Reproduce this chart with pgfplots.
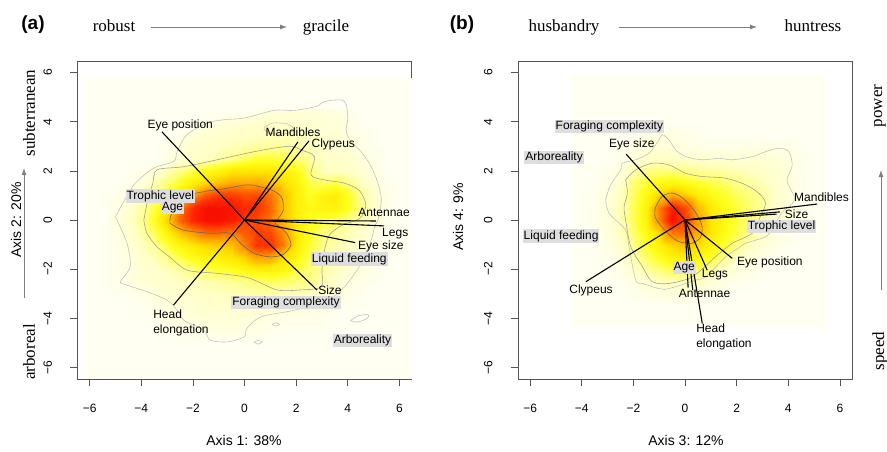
\documentclass[border=0pt]{standalone}
\usepackage{pgfplots}
\pgfplotsset{compat=1.18}
\usepackage{fontspec}
\setmainfont{Liberation Sans}
\newfontfamily\serif{Liberation Serif}
\usetikzlibrary{arrows.meta}

\definecolor{cream}{RGB}{255,255,242}
\definecolor{labbg}{RGB}{222,222,222}
\definecolor{cA}{RGB}{195,195,195}
\definecolor{cB}{RGB}{160,160,160}
\definecolor{cC}{RGB}{105,105,105}
\definecolor{frame}{RGB}{85,85,85}

\pgfplotsset{
  biplot/.style={
    scale only axis, width=334pt, height=318pt,
    xmin=-6.47, xmax=6.47, ymin=-6.47, ymax=6.47,
    clip=false,
    axis line style={frame, line width=0.6pt},
    tick style={frame, line width=0.6pt},
    tick align=outside, major tick length=7pt, tick pos=left,
    xtick={-6,-4,...,6}, ytick={-6,-4,...,6},
    xticklabels={−6,−4,−2,0,2,4,6}, yticklabels={−6,−4,−2,0,2,4,6},
    tick label style={font=\fontsize{12}{14}\selectfont},
    xticklabel shift=15pt,
    yticklabel style={rotate=90, anchor=south},
    yticklabel shift=15pt,
    colormap={heat}{rgb255(0pt)=(255,255,242) rgb255(12pt)=(255,255,195)
      rgb255(22pt)=(255,255,120) rgb255(32pt)=(255,255,30) rgb255(45pt)=(255,232,0)
      rgb255(60pt)=(255,170,0) rgb255(75pt)=(255,100,0) rgb255(90pt)=(255,40,0)
      rgb255(100pt)=(248,15,0)},
    point meta min=0, point meta max=1,
  },
  dens/.style={surf, shader=interp, point meta=explicit},
  arm/.style={black, line width=1.1pt, no marks},
  contA/.style={cA, line width=0.6pt, smooth, no marks},
  contB/.style={cB, line width=0.6pt, smooth, no marks},
  contC/.style={cC, line width=0.6pt, smooth, no marks},
}
\tikzset{
  lbl/.style={font=\fontsize{12}{15}\selectfont, inner sep=1pt},
  glbl/.style={lbl, fill=labbg},
  side/.style={font=\serif\fontsize{17}{19}\selectfont},
  axt/.style={font=\fontsize{14}{16}\selectfont},
  garrow/.style={gray, line width=0.8pt, -{Latex[length=7pt,width=5pt]}},
}

\begin{document}
\begin{tikzpicture}
\path[use as bounding box] (0pt,0pt) rectangle (887pt,451pt);

% ---------------- panel (a)
\begin{axis}[biplot, at={(77.5pt,72pt)}, anchor=south west]
\addplot[fill=cream, draw=none] coordinates {(-6.2,-6.47) (6.47,-6.47) (6.47,5.76) (-6.2,5.76)} -- cycle;
\addplot[dens, mesh/cols=24] table[row sep=\\, meta=c] {x y c\\
-5.5 4.5 0\\-5 4.5 0\\-4.5 4.5 0\\-4 4.5 0\\-3.5 4.5 0\\-3 4.5 0\\-2.5 4.5 0\\-2 4.5 0\\-1.5 4.5 0\\-1 4.5 0\\-0.5 4.5 0\\0 4.5 0\\0.5 4.5 0.02\\1 4.5 0.05\\1.5 4.5 0.06\\2 4.5 0.06\\2.5 4.5 0.06\\3 4.5 0.06\\3.5 4.5 0.05\\4 4.5 0.02\\4.5 4.5 0\\5 4.5 0\\5.5 4.5 0\\6 4.5 0\\
-5.5 4 0\\-5 4 0\\-4.5 4 0\\-4 4 0\\-3.5 4 0\\-3 4 0\\-2.5 4 0\\-2 4 0\\-1.5 4 0.02\\-1 4 0.05\\-0.5 4 0.07\\0 4 0.08\\0.5 4 0.09\\1 4 0.1\\1.5 4 0.1\\2 4 0.09\\2.5 4 0.08\\3 4 0.07\\3.5 4 0.06\\4 4 0.04\\4.5 4 0\\5 4 0\\5.5 4 0\\6 4 0\\
-5.5 3.5 0\\-5 3.5 0\\-4.5 3.5 0\\-4 3.5 0\\-3.5 3.5 0\\-3 3.5 0\\-2.5 3.5 0.02\\-2 3.5 0.06\\-1.5 3.5 0.08\\-1 3.5 0.09\\-0.5 3.5 0.1\\0 3.5 0.11\\0.5 3.5 0.12\\1 3.5 0.13\\1.5 3.5 0.13\\2 3.5 0.12\\2.5 3.5 0.1\\3 3.5 0.08\\3.5 3.5 0.07\\4 3.5 0.05\\4.5 3.5 0.02\\5 3.5 0\\5.5 3.5 0\\6 3.5 0\\
-5.5 3 0\\-5 3 0\\-4.5 3 0\\-4 3 0\\-3.5 3 0\\-3 3 0.02\\-2.5 3 0.07\\-2 3 0.09\\-1.5 3 0.1\\-1 3 0.12\\-0.5 3 0.13\\0 3 0.15\\0.5 3 0.16\\1 3 0.17\\1.5 3 0.17\\2 3 0.16\\2.5 3 0.13\\3 3 0.1\\3.5 3 0.08\\4 3 0.07\\4.5 3 0.04\\5 3 0\\5.5 3 0\\6 3 0\\
-5.5 2.5 0\\-5 2.5 0\\-4.5 2.5 0\\-4 2.5 0\\-3.5 2.5 0\\-3 2.5 0.03\\-2.5 2.5 0.08\\-2 2.5 0.1\\-1.5 2.5 0.12\\-1 2.5 0.16\\-0.5 2.5 0.2\\0 2.5 0.25\\0.5 2.5 0.3\\1 2.5 0.3\\1.5 2.5 0.28\\2 2.5 0.22\\2.5 2.5 0.17\\3 2.5 0.12\\3.5 2.5 0.1\\4 2.5 0.09\\4.5 2.5 0.06\\5 2.5 0.03\\5.5 2.5 0\\6 2.5 0\\
-5.5 2 0\\-5 2 0\\-4.5 2 0\\-4 2 0.03\\-3.5 2 0.08\\-3 2 0.14\\-2.5 2 0.2\\-2 2 0.28\\-1.5 2 0.35\\-1 2 0.4\\-0.5 2 0.45\\0 2 0.45\\0.5 2 0.45\\1 2 0.45\\1.5 2 0.42\\2 2 0.35\\2.5 2 0.22\\3 2 0.13\\3.5 2 0.12\\4 2 0.11\\4.5 2 0.08\\5 2 0.04\\5.5 2 0\\6 2 0\\
-5.5 1.5 0\\-5 1.5 0\\-4.5 1.5 0.02\\-4 1.5 0.06\\-3.5 1.5 0.14\\-3 1.5 0.22\\-2.5 1.5 0.32\\-2 1.5 0.42\\-1.5 1.5 0.5\\-1 1.5 0.55\\-0.5 1.5 0.6\\0 1.5 0.6\\0.5 1.5 0.6\\1 1.5 0.55\\1.5 1.5 0.48\\2 1.5 0.4\\2.5 1.5 0.28\\3 1.5 0.25\\3.5 1.5 0.27\\4 1.5 0.2\\4.5 1.5 0.12\\5 1.5 0.07\\5.5 1.5 0.02\\6 1.5 0\\
-5.5 1 0\\-5 1 0.02\\-4.5 1 0.06\\-4 1 0.12\\-3.5 1 0.2\\-3 1 0.32\\-2.5 1 0.45\\-2 1 0.62\\-1.5 1 0.78\\-1 1 0.85\\-0.5 1 0.85\\0 1 0.8\\0.5 1 0.82\\1 1 0.72\\1.5 1 0.55\\2 1 0.42\\2.5 1 0.32\\3 1 0.38\\3.5 1 0.42\\4 1 0.32\\4.5 1 0.18\\5 1 0.09\\5.5 1 0.03\\6 1 0\\
-5.5 0.5 0\\-5 0.5 0.04\\-4.5 0.5 0.08\\-4 0.5 0.16\\-3.5 0.5 0.28\\-3 0.5 0.45\\-2.5 0.5 0.7\\-2 0.5 0.9\\-1.5 0.5 1\\-1 0.5 1\\-0.5 0.5 0.97\\0 0.5 0.9\\0.5 0.5 0.88\\1 0.5 0.75\\1.5 0.5 0.55\\2 0.5 0.42\\2.5 0.5 0.35\\3 0.5 0.38\\3.5 0.5 0.4\\4 0.5 0.32\\4.5 0.5 0.2\\5 0.5 0.1\\5.5 0.5 0.03\\6 0.5 0\\
-5.5 0 0\\-5 0 0.05\\-4.5 0 0.1\\-4 0 0.18\\-3.5 0 0.32\\-3 0 0.5\\-2.5 0 0.75\\-2 0 0.92\\-1.5 0 1\\-1 0 1\\-0.5 0 0.95\\0 0 0.85\\0.5 0 0.82\\1 0 0.72\\1.5 0 0.55\\2 0 0.42\\2.5 0 0.32\\3 0 0.28\\3.5 0 0.26\\4 0 0.2\\4.5 0 0.14\\5 0 0.08\\5.5 0 0.02\\6 0 0\\
-5.5 -0.5 0\\-5 -0.5 0.03\\-4.5 -0.5 0.08\\-4 -0.5 0.15\\-3.5 -0.5 0.25\\-3 -0.5 0.4\\-2.5 -0.5 0.55\\-2 -0.5 0.65\\-1.5 -0.5 0.75\\-1 -0.5 0.75\\-0.5 -0.5 0.72\\0 -0.5 0.78\\0.5 -0.5 0.85\\1 -0.5 0.82\\1.5 -0.5 0.65\\2 -0.5 0.45\\2.5 -0.5 0.32\\3 -0.5 0.22\\3.5 -0.5 0.18\\4 -0.5 0.14\\4.5 -0.5 0.1\\5 -0.5 0.05\\5.5 -0.5 0\\6 -0.5 0\\
-5.5 -1 0\\-5 -1 0.02\\-4.5 -1 0.06\\-4 -1 0.12\\-3.5 -1 0.18\\-3 -1 0.28\\-2.5 -1 0.38\\-2 -1 0.45\\-1.5 -1 0.5\\-1 -1 0.52\\-0.5 -1 0.55\\0 -1 0.7\\0.5 -1 0.88\\1 -1 0.88\\1.5 -1 0.7\\2 -1 0.45\\2.5 -1 0.3\\3 -1 0.2\\3.5 -1 0.15\\4 -1 0.12\\4.5 -1 0.08\\5 -1 0.03\\5.5 -1 0\\6 -1 0\\
-5.5 -1.5 0\\-5 -1.5 0.02\\-4.5 -1.5 0.05\\-4 -1.5 0.1\\-3.5 -1.5 0.13\\-3 -1.5 0.2\\-2.5 -1.5 0.28\\-2 -1.5 0.35\\-1.5 -1.5 0.4\\-1 -1.5 0.42\\-0.5 -1.5 0.45\\0 -1.5 0.52\\0.5 -1.5 0.62\\1 -1.5 0.62\\1.5 -1.5 0.5\\2 -1.5 0.38\\2.5 -1.5 0.26\\3 -1.5 0.18\\3.5 -1.5 0.13\\4 -1.5 0.1\\4.5 -1.5 0.06\\5 -1.5 0.02\\5.5 -1.5 0\\6 -1.5 0\\
-5.5 -2 0\\-5 -2 0.02\\-4.5 -2 0.04\\-4 -2 0.08\\-3.5 -2 0.1\\-3 -2 0.13\\-2.5 -2 0.17\\-2 -2 0.22\\-1.5 -2 0.27\\-1 -2 0.3\\-0.5 -2 0.33\\0 -2 0.38\\0.5 -2 0.42\\1 -2 0.42\\1.5 -2 0.38\\2 -2 0.3\\2.5 -2 0.22\\3 -2 0.17\\3.5 -2 0.12\\4 -2 0.08\\4.5 -2 0.05\\5 -2 0.02\\5.5 -2 0\\6 -2 0\\
-5.5 -2.5 0\\-5 -2.5 0.02\\-4.5 -2.5 0.04\\-4 -2.5 0.07\\-3.5 -2.5 0.08\\-3 -2.5 0.1\\-2.5 -2.5 0.12\\-2 -2.5 0.13\\-1.5 -2.5 0.15\\-1 -2.5 0.16\\-0.5 -2.5 0.18\\0 -2.5 0.2\\0.5 -2.5 0.23\\1 -2.5 0.25\\1.5 -2.5 0.24\\2 -2.5 0.22\\2.5 -2.5 0.2\\3 -2.5 0.15\\3.5 -2.5 0.1\\4 -2.5 0.06\\4.5 -2.5 0.03\\5 -2.5 0.01\\5.5 -2.5 0\\6 -2.5 0\\
-5.5 -3 0\\-5 -3 0\\-4.5 -3 0.01\\-4 -3 0.03\\-3.5 -3 0.06\\-3 -3 0.08\\-2.5 -3 0.1\\-2 -3 0.1\\-1.5 -3 0.11\\-1 -3 0.12\\-0.5 -3 0.13\\0 -3 0.14\\0.5 -3 0.15\\1 -3 0.15\\1.5 -3 0.14\\2 -3 0.13\\2.5 -3 0.11\\3 -3 0.09\\3.5 -3 0.06\\4 -3 0.03\\4.5 -3 0.01\\5 -3 0\\5.5 -3 0\\6 -3 0\\
-5.5 -3.5 0\\-5 -3.5 0\\-4.5 -3.5 0\\-4 -3.5 0.01\\-3.5 -3.5 0.03\\-3 -3.5 0.05\\-2.5 -3.5 0.07\\-2 -3.5 0.08\\-1.5 -3.5 0.09\\-1 -3.5 0.1\\-0.5 -3.5 0.1\\0 -3.5 0.1\\0.5 -3.5 0.1\\1 -3.5 0.1\\1.5 -3.5 0.09\\2 -3.5 0.08\\2.5 -3.5 0.07\\3 -3.5 0.05\\3.5 -3.5 0.03\\4 -3.5 0.01\\4.5 -3.5 0\\5 -3.5 0\\5.5 -3.5 0\\6 -3.5 0\\
-5.5 -4 0\\-5 -4 0\\-4.5 -4 0\\-4 -4 0\\-3.5 -4 0.01\\-3 -4 0.03\\-2.5 -4 0.05\\-2 -4 0.06\\-1.5 -4 0.07\\-1 -4 0.07\\-0.5 -4 0.07\\0 -4 0.06\\0.5 -4 0.05\\1 -4 0.04\\1.5 -4 0.03\\2 -4 0.02\\2.5 -4 0.02\\3 -4 0.02\\3.5 -4 0.01\\4 -4 0\\4.5 -4 0\\5 -4 0\\5.5 -4 0\\6 -4 0\\
-5.5 -4.5 0\\-5 -4.5 0\\-4.5 -4.5 0\\-4 -4.5 0\\-3.5 -4.5 0\\-3 -4.5 0.01\\-2.5 -4.5 0.02\\-2 -4.5 0.03\\-1.5 -4.5 0.04\\-1 -4.5 0.05\\-0.5 -4.5 0.05\\0 -4.5 0.04\\0.5 -4.5 0.03\\1 -4.5 0.02\\1.5 -4.5 0.01\\2 -4.5 0.01\\2.5 -4.5 0.01\\3 -4.5 0.01\\3.5 -4.5 0\\4 -4.5 0\\4.5 -4.5 0\\5 -4.5 0\\5.5 -4.5 0\\6 -4.5 0\\
-5.5 -5 0\\-5 -5 0\\-4.5 -5 0\\-4 -5 0\\-3.5 -5 0\\-3 -5 0\\-2.5 -5 0\\-2 -5 0\\-1.5 -5 0\\-1 -5 0\\-0.5 -5 0\\0 -5 0\\0.5 -5 0\\1 -5 0\\1.5 -5 0\\2 -5 0\\2.5 -5 0\\3 -5 0\\3.5 -5 0\\4 -5 0\\4.5 -5 0\\5 -5 0\\5.5 -5 0\\6 -5 0\\
};
% contour lines
\addplot[contA] coordinates {(-5.0,0.13) (-4.6,0.9) (-4.23,1.5) (-3.52,2.11) (-2.74,2.38) (-2.61,2.78) (-2.23,3.47) (-1.45,3.94) (-0.8,4.08) (0,4.15) (1.15,4.46) (1.93,4.46) (2.77,4.62) (3.10,4.82) (3.74,4.89) (3.94,4.69) (4.0,4.15) (3.94,3.6) (4.13,3.19) (4.52,2.78) (4.91,2.17) (5.17,1.5) (5.30,0.82) (5.17,0) (5.04,-0.27) (4.91,-0.82) (4.52,-1.77) (3.87,-2.72) (3.22,-3.26) (1.93,-3.67) (0.64,-3.94) (0.1,-4.4) (-0.02,-4.76) (-0.67,-4.96) (-1.32,-4.89) (-1.58,-4.48) (-2.35,-4.08) (-2.61,-3.67) (-3.0,-3.26) (-3.78,-2.92) (-4.55,-2.65) (-4.81,-2.51) (-4.43,-1.9) (-4.55,-0.95) (-5.0,0.13)};
\addplot[contA] coordinates {(0.75,3.75) (1.1,3.95) (1.7,3.9) (1.9,3.65) (1.5,3.5) (0.9,3.55) (0.75,3.75)};
\addplot[contA] coordinates {(4.1,-4.1) (4.4,-3.9) (4.8,-3.85) (4.75,-4.0) (4.4,-4.15) (4.1,-4.1)};
\addplot[contA] coordinates {(1.08,-4.25) (1.2,-4.18) (1.35,-4.25) (1.2,-4.32) (1.08,-4.25)};
\addplot[contA] coordinates {(0.38,-4.97) (0.53,-4.9) (0.69,-4.97) (0.53,-5.05) (0.38,-4.97)};
\addplot[contB] coordinates {(-3.9,0) (-3.75,0.8) (-3.55,1.5) (-3.39,2.04) (-2.35,2.17) (-1.06,2.45) (0.1,2.72) (1.0,2.9) (1.8,3.0) (2.2,2.85) (2.71,2.58) (2.58,1.83) (3.10,1.63) (3.87,1.5) (4.45,1.2) (4.7,0.6) (4.45,0.05) (3.8,-0.2) (3.3,-0.6) (3.1,-1.22) (3.0,-2.0) (2.97,-2.72) (2.1,-2.85) (1.28,-2.85) (0.5,-2.5) (-0.02,-2.31) (-1.06,-2.17) (-2.22,-2.04) (-2.9,-1.5) (-3.39,-1.09) (-3.78,-0.54) (-3.9,0)};
\addplot[contC] coordinates {(-2.89,-0.13) (-2.82,0.27) (-2.24,0.95) (-1.6,1.15) (-0.67,1.29) (0.1,1.43) (0.61,1.35) (1.1,1.2) (1.45,0.9) (1.5,0.4) (1.3,0.05) (1.2,-0.15) (1.6,-0.5) (1.8,-1.0) (1.5,-1.4) (1.0,-1.5) (0.38,-1.36) (-0.1,-1.0) (-0.56,-0.54) (-1.33,-0.54) (-2.37,-0.41) (-2.89,-0.13)};
% loadings
\addplot[arm] coordinates {(0,0) (-3.20,3.59)};
\addplot[arm] coordinates {(0,0) (2.07,3.18)};
\addplot[arm] coordinates {(0,0) (2.50,3.22)};
\addplot[arm] coordinates {(0,0) (5.09,-0.04)};
\addplot[arm] coordinates {(0,0) (5.41,-0.24)};
\addplot[arm] coordinates {(0,0) (4.29,-0.92)};
\addplot[arm] coordinates {(0,0) (2.81,-2.85)};
\addplot[arm] coordinates {(0,0) (-2.75,-3.46)};
\node[lbl] at (axis cs:-2.49,3.86) {Eye position};
\node[lbl] at (axis cs:1.88,3.56) {Mandibles};
\node[lbl] at (axis cs:3.44,3.08) {Clypeus};
\node[glbl] at (axis cs:-3.26,0.98) {Trophic level};
\node[glbl] at (axis cs:-2.79,0.49) {Age};
\node[lbl] at (axis cs:5.41,0.31) {Antennae};
\node[lbl] at (axis cs:5.84,-0.57) {Legs};
\node[lbl] at (axis cs:5.28,-1.08) {Eye size};
\node[glbl] at (axis cs:4.06,-1.59) {Liquid feeding};
\node[lbl] at (axis cs:3.31,-2.87) {Size};
\node[glbl] at (axis cs:1.61,-3.35) {Foraging complexity};
\node[lbl, anchor=west, align=left] at (axis cs:-3.58,-4.19) {Head\\elongation};
\node[glbl] at (axis cs:4.57,-4.9) {Arboreality};
\end{axis}

% ---------------- panel (b)
\begin{axis}[biplot, at={(518pt,72pt)}, anchor=south west]
\addplot[fill=cream, draw=none] coordinates {(-4.36,-4.34) (5.55,-4.34) (5.55,5.85) (-4.36,5.85)} -- cycle;
\addplot[dens, mesh/cols=20] table[row sep=\\, meta=c] {x y c\\
-4 4 0\\-3.5 4 0\\-3 4 0\\-2.5 4 0\\-2 4 0\\-1.5 4 0\\-1 4 0\\-0.5 4 0\\0 4 0\\0.5 4 0\\1 4 0\\1.5 4 0\\2 4 0\\2.5 4 0\\3 4 0\\3.5 4 0\\4 4 0\\4.5 4 0\\5 4 0\\5.5 4 0\\
-4 3.5 0\\-3.5 3.5 0\\-3 3.5 0\\-2.5 3.5 0\\-2 3.5 0.01\\-1.5 3.5 0.03\\-1 3.5 0.05\\-0.5 3.5 0.04\\0 3.5 0.02\\0.5 3.5 0.01\\1 3.5 0\\1.5 3.5 0\\2 3.5 0\\2.5 3.5 0\\3 3.5 0\\3.5 3.5 0\\4 3.5 0\\4.5 3.5 0\\5 3.5 0\\5.5 3.5 0\\
-4 3 0\\-3.5 3 0\\-3 3 0\\-2.5 3 0.01\\-2 3 0.03\\-1.5 3 0.05\\-1 3 0.07\\-0.5 3 0.06\\0 3 0.04\\0.5 3 0.03\\1 3 0.02\\1.5 3 0.02\\2 3 0.02\\2.5 3 0.03\\3 3 0.04\\3.5 3 0.04\\4 3 0.02\\4.5 3 0\\5 3 0\\5.5 3 0\\
-4 2.5 0\\-3.5 2.5 0\\-3 2.5 0\\-2.5 2.5 0.03\\-2 2.5 0.07\\-1.5 2.5 0.1\\-1 2.5 0.11\\-0.5 2.5 0.11\\0 2.5 0.1\\0.5 2.5 0.09\\1 2.5 0.09\\1.5 2.5 0.09\\2 2.5 0.08\\2.5 2.5 0.08\\3 2.5 0.08\\3.5 2.5 0.07\\4 2.5 0.05\\4.5 2.5 0.02\\5 2.5 0\\5.5 2.5 0\\
-4 2 0\\-3.5 2 0\\-3 2 0.02\\-2.5 2 0.06\\-2 2 0.16\\-1.5 2 0.2\\-1 2 0.22\\-0.5 2 0.22\\0 2 0.2\\0.5 2 0.18\\1 2 0.17\\1.5 2 0.16\\2 2 0.14\\2.5 2 0.12\\3 2 0.1\\3.5 2 0.08\\4 2 0.06\\4.5 2 0.02\\5 2 0\\5.5 2 0\\
-4 1.5 0\\-3.5 1.5 0.01\\-3 1.5 0.04\\-2.5 1.5 0.1\\-2 1.5 0.22\\-1.5 1.5 0.3\\-1 1.5 0.36\\-0.5 1.5 0.38\\0 1.5 0.34\\0.5 1.5 0.3\\1 1.5 0.27\\1.5 1.5 0.24\\2 1.5 0.2\\2.5 1.5 0.17\\3 1.5 0.13\\3.5 1.5 0.09\\4 1.5 0.06\\4.5 1.5 0.02\\5 1.5 0\\5.5 1.5 0\\
-4 1 0\\-3.5 1 0.02\\-3 1 0.06\\-2.5 1 0.12\\-2 1 0.24\\-1.5 1 0.36\\-1 1 0.5\\-0.5 1 0.6\\0 1 0.52\\0.5 1 0.42\\1 1 0.35\\1.5 1 0.3\\2 1 0.25\\2.5 1 0.21\\3 1 0.17\\3.5 1 0.1\\4 1 0.07\\4.5 1 0.02\\5 1 0\\5.5 1 0\\
-4 0.5 0\\-3.5 0.5 0.02\\-3 0.5 0.07\\-2.5 0.5 0.14\\-2 0.5 0.25\\-1.5 0.5 0.4\\-1 0.5 0.7\\-0.5 0.5 0.95\\0 0.5 0.82\\0.5 0.5 0.56\\1 0.5 0.43\\1.5 0.5 0.35\\2 0.5 0.28\\2.5 0.5 0.23\\3 0.5 0.17\\3.5 0.5 0.1\\4 0.5 0.06\\4.5 0.5 0.02\\5 0.5 0\\5.5 0.5 0\\
-4 0 0\\-3.5 0 0.02\\-3 0 0.07\\-2.5 0 0.14\\-2 0 0.25\\-1.5 0 0.4\\-1 0 0.68\\-0.5 0 1\\0 0 0.85\\0.5 0 0.62\\1 0 0.45\\1.5 0 0.36\\2 0 0.28\\2.5 0 0.22\\3 0 0.15\\3.5 0 0.09\\4 0 0.05\\4.5 0 0.01\\5 0 0\\5.5 0 0\\
-4 -0.5 0\\-3.5 -0.5 0.02\\-3 -0.5 0.06\\-2.5 -0.5 0.12\\-2 -0.5 0.23\\-1.5 -0.5 0.35\\-1 -0.5 0.5\\-0.5 -0.5 0.72\\0 -0.5 0.75\\0.5 -0.5 0.6\\1 -0.5 0.45\\1.5 -0.5 0.35\\2 -0.5 0.27\\2.5 -0.5 0.2\\3 -0.5 0.12\\3.5 -0.5 0.07\\4 -0.5 0.03\\4.5 -0.5 0\\5 -0.5 0\\5.5 -0.5 0\\
-4 -1 0\\-3.5 -1 0.01\\-3 -1 0.04\\-2.5 -1 0.09\\-2 -1 0.2\\-1.5 -1 0.3\\-1 -1 0.4\\-0.5 -1 0.5\\0 -1 0.55\\0.5 -1 0.48\\1 -1 0.4\\1.5 -1 0.3\\2 -1 0.2\\2.5 -1 0.12\\3 -1 0.07\\3.5 -1 0.03\\4 -1 0.01\\4.5 -1 0\\5 -1 0\\5.5 -1 0\\
-4 -1.5 0\\-3.5 -1.5 0\\-3 -1.5 0.02\\-2.5 -1.5 0.06\\-2 -1.5 0.15\\-1.5 -1.5 0.24\\-1 -1.5 0.32\\-0.5 -1.5 0.4\\0 -1.5 0.42\\0.5 -1.5 0.38\\1 -1.5 0.3\\1.5 -1.5 0.2\\2 -1.5 0.12\\2.5 -1.5 0.07\\3 -1.5 0.03\\3.5 -1.5 0.01\\4 -1.5 0\\4.5 -1.5 0\\5 -1.5 0\\5.5 -1.5 0\\
-4 -2 0\\-3.5 -2 0\\-3 -2 0.01\\-2.5 -2 0.03\\-2 -2 0.1\\-1.5 -2 0.17\\-1 -2 0.22\\-0.5 -2 0.27\\0 -2 0.28\\0.5 -2 0.25\\1 -2 0.18\\1.5 -2 0.1\\2 -2 0.06\\2.5 -2 0.03\\3 -2 0.01\\3.5 -2 0\\4 -2 0\\4.5 -2 0\\5 -2 0\\5.5 -2 0\\
-4 -2.5 0\\-3.5 -2.5 0\\-3 -2.5 0\\-2.5 -2.5 0.01\\-2 -2.5 0.04\\-1.5 -2.5 0.09\\-1 -2.5 0.12\\-0.5 -2.5 0.14\\0 -2.5 0.14\\0.5 -2.5 0.12\\1 -2.5 0.08\\1.5 -2.5 0.04\\2 -2.5 0.02\\2.5 -2.5 0.01\\3 -2.5 0\\3.5 -2.5 0\\4 -2.5 0\\4.5 -2.5 0\\5 -2.5 0\\5.5 -2.5 0\\
-4 -3 0\\-3.5 -3 0\\-3 -3 0\\-2.5 -3 0\\-2 -3 0.01\\-1.5 -3 0.03\\-1 -3 0.04\\-0.5 -3 0.05\\0 -3 0.05\\0.5 -3 0.04\\1 -3 0.02\\1.5 -3 0.01\\2 -3 0\\2.5 -3 0\\3 -3 0\\3.5 -3 0\\4 -3 0\\4.5 -3 0\\5 -3 0\\5.5 -3 0\\
-4 -3.5 0\\-3.5 -3.5 0\\-3 -3.5 0\\-2.5 -3.5 0\\-2 -3.5 0\\-1.5 -3.5 0\\-1 -3.5 0\\-0.5 -3.5 0\\0 -3.5 0\\0.5 -3.5 0\\1 -3.5 0\\1.5 -3.5 0\\2 -3.5 0\\2.5 -3.5 0\\3 -3.5 0\\3.5 -3.5 0\\4 -3.5 0\\4.5 -3.5 0\\5 -3.5 0\\5.5 -3.5 0\\
};
\addplot[contA] coordinates {(-3.07,0.82) (-2.9,1.4) (-2.49,2.04) (-2.43,2.31) (-1.91,2.45) (-1.39,2.72) (-1.01,3.26) (-0.88,3.47) (-0.62,3.26) (-0.36,2.85) (0.03,2.58) (0.67,2.45) (1.32,2.51) (1.83,2.45) (2.61,2.58) (3.12,2.78) (3.64,2.92) (4.03,2.78) (4.15,2.2) (3.95,1.6) (4.25,0.82) (3.75,0.3) (3.37,-0.41) (3.12,-0.68) (2.74,-0.82) (2.35,-0.95) (1.96,-1.22) (1.58,-1.49) (0.8,-2.31) (0.41,-2.45) (-0.62,-2.79) (-1.01,-2.79) (-1.65,-2.58) (-1.91,-2.45) (-2.17,-1.09) (-2.3,-0.41) (-2.94,0.27) (-3.07,0.82)};
\addplot[contB] coordinates {(-2.3,1.63) (-1.91,2.04) (-1.27,2.31) (-0.62,2.24) (0.03,1.9) (0.67,1.77) (1.58,1.7) (2.35,1.43) (2.86,1.09) (3.12,0.68) (2.9,0.1) (2.6,-0.54) (1.83,-0.95) (1.19,-1.49) (0.28,-2.31) (-0.62,-2.58) (-1.27,-2.51) (-1.65,-1.9) (-2.1,-1.09) (-2.3,0) (-2.36,0.54) (-2.23,1.09) (-2.3,1.63)};
\addplot[contC] coordinates {(-1.15,0.5) (-0.9,0.95) (-0.5,1.1) (-0.1,0.9) (0.35,0.4) (0.65,-0.2) (0.6,-0.7) (0.25,-0.95) (-0.3,-0.85) (-0.8,-0.4) (-1.15,0.1) (-1.15,0.5)};
\addplot[arm] coordinates {(0,0) (-2.28,2.68)};
\addplot[arm] coordinates {(0,0) (5.12,0.65)};
\addplot[arm] coordinates {(0,0) (3.68,0.33)};
\addplot[arm] coordinates {(0,0) (3.55,0.24)};
\addplot[arm] coordinates {(0,0) (1.83,-1.56)};
\addplot[arm] coordinates {(0,0) (0.86,-2.04)};
\addplot[arm] coordinates {(0,0) (0.12,-2.75)};
\addplot[arm] coordinates {(0,0) (0.3,-2.85)};
\addplot[arm] coordinates {(0,0) (0.67,-4.21)};
\addplot[arm] coordinates {(0,0) (-3.84,-2.51)};
\node[glbl] at (axis cs:-2.93,3.79) {Foraging complexity};
\node[lbl] at (axis cs:-2.06,3.09) {Eye size};
\node[glbl] at (axis cs:-5.07,2.55) {Arboreality};
\node[lbl] at (axis cs:5.29,0.91) {Mandibles};
\node[lbl] at (axis cs:4.32,0.24) {Size};
\node[glbl] at (axis cs:3.74,-0.27) {Trophic level};
\node[glbl] at (axis cs:-4.80,-0.65) {Liquid feeding};
\node[lbl] at (axis cs:3.29,-1.72) {Eye position};
\node[glbl] at (axis cs:-0.03,-1.94) {Age};
\node[lbl] at (axis cs:1.16,-2.24) {Legs};
\node[lbl] at (axis cs:0.76,-2.98) {Antennae};
\node[lbl] at (axis cs:-3.64,-2.85) {Clypeus};
\node[lbl, anchor=west, align=left] at (axis cs:0.39,-4.77) {Head\\elongation};
\end{axis}

% ---------------- annotations around the panels
\node[font=\fontsize{19}{21}\selectfont\bfseries] at (33pt,426pt) {(a)};
\node[side, anchor=base] at (114pt,419pt) {robust};
\draw[garrow] (151pt,424pt) -- (287pt,424pt);
\node[side, anchor=base] at (326pt,419pt) {gracile};
\node[font=\fontsize{19}{21}\selectfont\bfseries] at (462pt,426pt) {(b)};
\node[side, anchor=base] at (564pt,419pt) {husbandry};
\draw[garrow] (619pt,424pt) -- (757pt,424pt);
\node[side, anchor=base] at (813pt,419pt) {huntress};

\node[side, rotate=90] at (29pt,338pt) {subterranean};
\node[side, rotate=90] at (29pt,99pt) {arboreal};
\node[axt, rotate=90] at (16pt,231pt) {Axis 2: 20\%};
\draw[garrow] (24pt,153pt) -- (24pt,283pt);
\node[axt, rotate=90] at (458pt,234pt) {Axis 4: 9\%};
\node[side, rotate=90] at (880pt,345pt) {power};
\node[side, rotate=90] at (880pt,100pt) {speed};
\draw[garrow] (881pt,161pt) -- (881pt,281pt);
\node[axt] at (244pt,11pt) {Axis 1: 38\%};
\node[axt] at (686pt,11pt) {Axis 3: 12\%};
\end{tikzpicture}
\end{document}
